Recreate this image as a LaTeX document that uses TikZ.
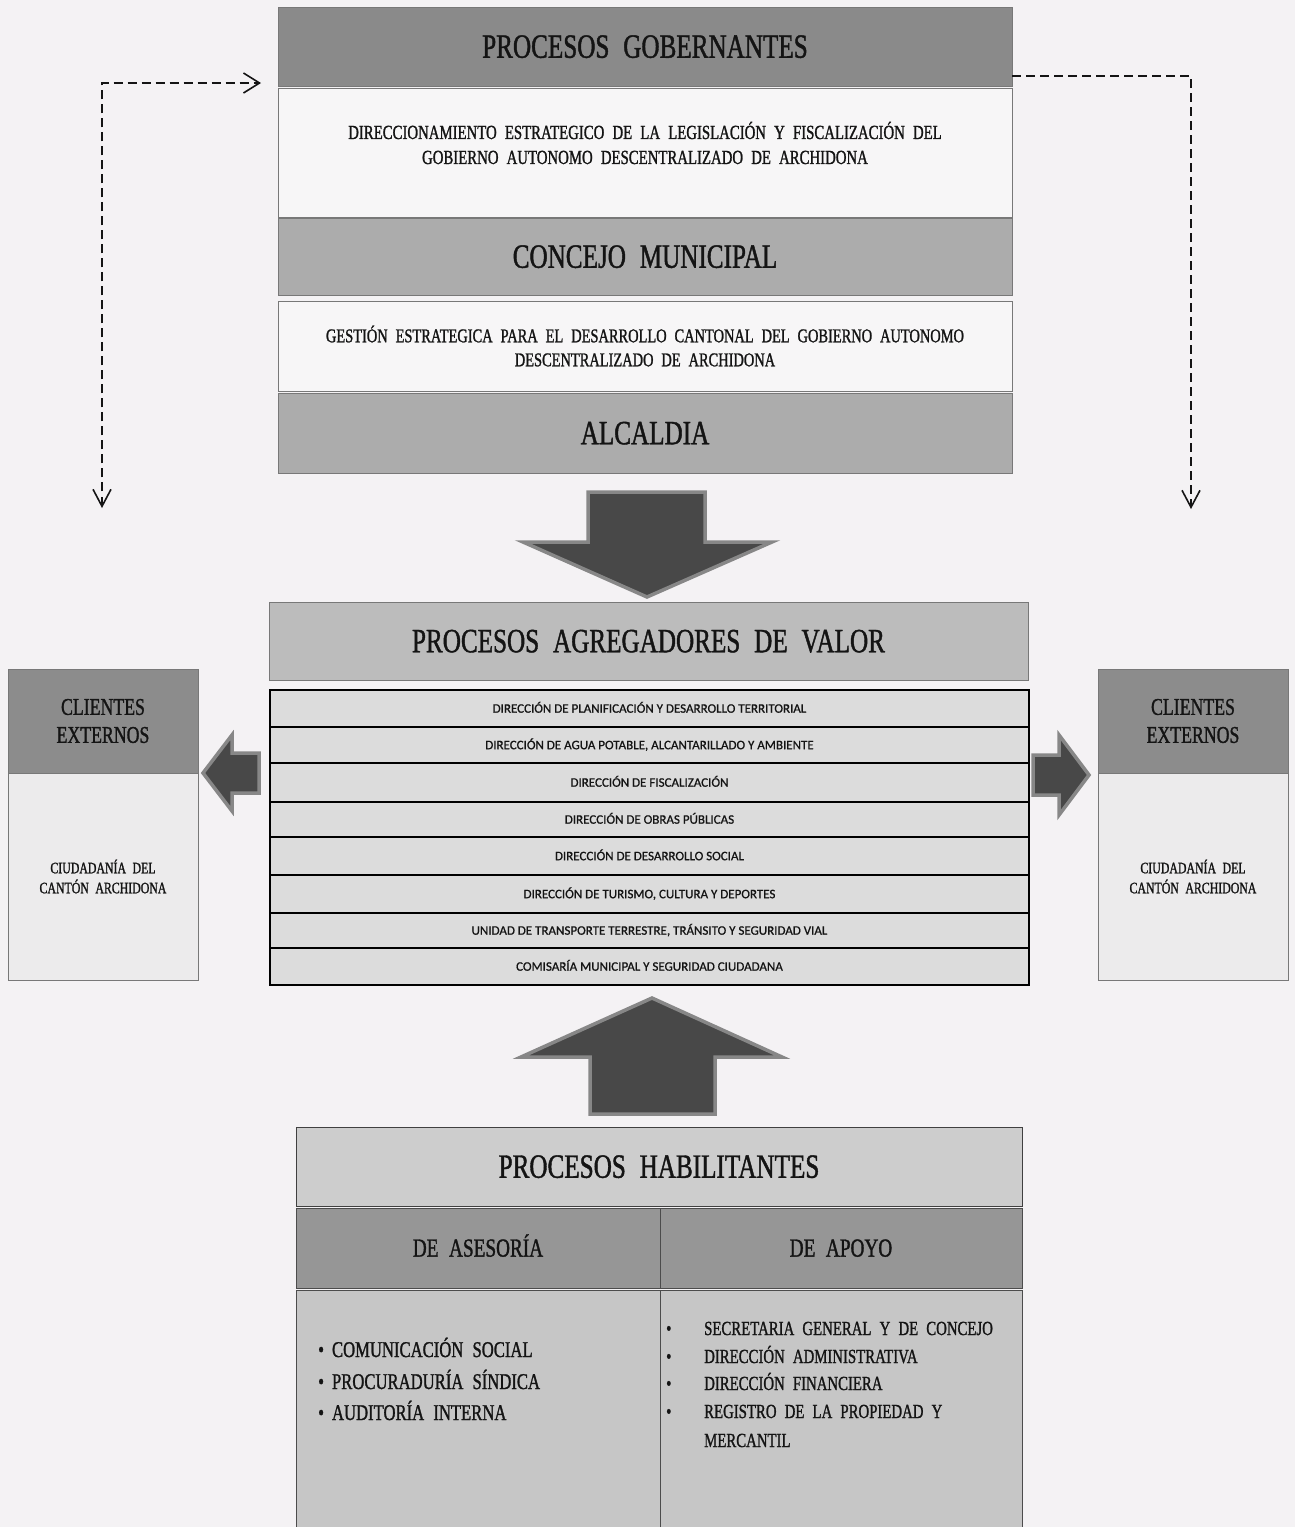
\documentclass[tikz,border=0pt]{standalone}
\usepackage{fontspec}
\setmainfont{Liberation Serif}
\newfontfamily\cs[FakeStretch=0.74,WordSpace=2.2,FakeBold=1.2]{Liberation Serif}
\newfontfamily\calfont[FakeBold=0.8]{Carlito}
\usetikzlibrary{arrows.meta}
\definecolor{bg}{RGB}{244,242,244}
\definecolor{govgray}{RGB}{138,138,138}
\definecolor{midgray}{RGB}{172,172,172}
\definecolor{agrgray}{RGB}{188,188,188}
\definecolor{rowgray}{RGB}{220,220,220}
\definecolor{paper}{RGB}{247,246,247}
\definecolor{cligray}{RGB}{140,140,140}
\definecolor{clibody}{RGB}{236,235,236}
\definecolor{habgray}{RGB}{205,205,205}
\definecolor{asegray}{RGB}{150,150,150}
\definecolor{contgray}{RGB}{198,198,198}
\definecolor{arrowdark}{RGB}{72,72,72}
\definecolor{arrowedge}{RGB}{135,135,135}
\definecolor{bordergray}{RGB}{120,120,120}
\definecolor{ink}{RGB}{20,20,20}
\begin{document}
\begin{tikzpicture}[x=1pt,y=-1pt,
  blk/.style={rectangle, inner sep=0pt, outer sep=0pt, draw=bordergray, line width=0.8pt, align=center, text=ink},
  head/.style={font=\cs\fontsize{34}{40}\selectfont, text height=22.5pt, text depth=0pt},
  bodytxt/.style={font=\cs\fontsize{20}{25}\selectfont, align=center, text=ink},
  rowsty/.style={blk, fill=rowgray, draw=black, line width=2.2pt, minimum width=759pt, font=\calfont\fontsize{13}{15}\selectfont, text height=8.4pt, text depth=0pt},
  clihead/.style={blk, fill=cligray, minimum width=190pt, minimum height=104pt, font=\cs\fontsize{24}{28}\selectfont},
  clibox/.style={blk, fill=clibody, minimum width=190pt, minimum height=207pt, font=\cs\fontsize{16}{20}\selectfont},
  subhead/.style={blk, fill=asegray, draw=black!70, minimum height=80pt, font=\cs\fontsize{26}{30}\selectfont, text height=17.2pt, text depth=0pt},
  listl/.style={anchor=base west, inner sep=0pt, text=ink, font=\cs\fontsize{22.5}{26}\selectfont},
  listr/.style={anchor=base west, inner sep=0pt, text=ink, font=\cs\fontsize{20}{24}\selectfont},
  dashline/.style={line width=2pt, dash pattern=on 9pt off 5pt, draw=ink},
  barbr/.tip={Straight Barb[length=16pt,width=20pt,line width=1.6pt]},
  barbd/.tip={Straight Barb[length=17pt,width=18pt,line width=1.6pt]},
  blockarrow/.style={fill=arrowdark, draw=arrowedge, line width=3.5pt, line join=miter}
]
\fill[bg] (0,0) rectangle (1295,1527);
\useasboundingbox (0,0) rectangle (1295,1527);

% ---------- top block ----------
\node[blk, fill=govgray, minimum width=734pt, minimum height=79pt, head] (gob) at (645,46.5) {PROCESOS GOBERNANTES};
\node[blk, fill=paper, minimum width=734pt, minimum height=129pt] (d1) at (645,152.5) {};
\node[bodytxt] (d1t) at (645,143) {DIRECCIONAMIENTO ESTRATEGICO DE LA LEGISLACIÓN Y FISCALIZACIÓN DEL\\GOBIERNO AUTONOMO DESCENTRALIZADO DE ARCHIDONA};
\node[blk, fill=midgray, minimum width=734pt, minimum height=77pt, head] (con) at (645,256.5) {CONCEJO MUNICIPAL};
\node[blk, fill=paper, minimum width=734pt, minimum height=90pt, bodytxt, font=\cs\fontsize{19.5}{24}\selectfont] (d2) at (645,346) {GESTIÓN ESTRATEGICA PARA EL DESARROLLO CANTONAL DEL GOBIERNO AUTONOMO\\DESCENTRALIZADO DE ARCHIDONA};
\node[blk, fill=midgray, minimum width=734pt, minimum height=80pt, head] (alc) at (645,433) {ALCALDIA};

% down arrow
\draw[blockarrow] (588,492) -- (705,492) -- (705,542) -- (772,542) -- (647,597) -- (523,542) -- (588,542) -- cycle;

% ---------- dashed connectors ----------
\coordinate (lcorner) at (102,83);
\coordinate (ltip) at (261,83);
\coordinate (lbot) at (102,508);
\coordinate (rcorner) at (1191,76);
\coordinate (rbot) at (1191,509);
\draw[dashline, {barbd}-{barbr}] (lbot) -- (lcorner) -- (ltip);
\draw[dashline, -{barbd}] (gob.east |- rcorner) -- (rcorner) -- (rbot);

% ---------- value-adding processes ----------
\node[blk, fill=agrgray, minimum width=759pt, minimum height=78pt, head] (agr) at (648.5,641) {PROCESOS AGREGADORES DE VALOR};
\node[rowsty, minimum height=37pt] (r1) at (649.5,708.5) {DIRECCIÓN DE PLANIFICACIÓN Y DESARROLLO TERRITORIAL};
\node[rowsty, minimum height=36pt] (r2) at (649.5,745) {DIRECCIÓN DE AGUA POTABLE, ALCANTARILLADO Y AMBIENTE};
\node[rowsty, minimum height=39pt] (r3) at (649.5,782.5) {DIRECCIÓN DE FISCALIZACIÓN};
\node[rowsty, minimum height=35pt] (r4) at (649.5,819.5) {DIRECCIÓN DE OBRAS PÚBLICAS};
\node[rowsty, minimum height=38pt] (r5) at (649.5,856) {DIRECCIÓN DE DESARROLLO SOCIAL};
\node[rowsty, minimum height=38pt] (r6) at (649.5,894) {DIRECCIÓN DE TURISMO, CULTURA Y DEPORTES};
\node[rowsty, minimum height=35pt] (r7) at (649.5,930.5) {UNIDAD DE TRANSPORTE TERRESTRE, TRÁNSITO Y SEGURIDAD VIAL};
\node[rowsty, minimum height=37pt] (r8) at (649.5,966.5) {COMISARÍA MUNICIPAL Y SEGURIDAD CIUDADANA};

% clients
\node[clihead] (clh) at (103,721) {CLIENTES\\EXTERNOS};
\node[clibox] (clb) at (103,876.5) {CIUDADANÍA DEL\\CANTÓN ARCHIDONA};
\node[clihead] (crh) at (1193,721) {CLIENTES\\EXTERNOS};
\node[clibox] (crb) at (1193,876.5) {CIUDADANÍA DEL\\CANTÓN ARCHIDONA};

% side arrows
\draw[blockarrow] (203,773) -- (232,735) -- (232,753) -- (259,753) -- (259,793) -- (232,793) -- (232,811) -- cycle;
\draw[blockarrow] (1089,775) -- (1059,735) -- (1059,755) -- (1033,755) -- (1033,795) -- (1059,795) -- (1059,815) -- cycle;

% up arrow
\draw[blockarrow] (652,998) -- (782,1057) -- (715,1057) -- (715,1114) -- (590,1114) -- (590,1057) -- (521,1057) -- cycle;

% ---------- enabling processes ----------
\node[blk, fill=habgray, draw=black!75, minimum width=726pt, minimum height=79pt, head] (hab) at (659,1166.5) {PROCESOS HABILITANTES};
\node[subhead, minimum width=364pt] (ase) at (478,1248) {DE ASESORÍA};
\node[subhead, minimum width=362pt] (apo) at (841,1248) {DE APOYO};
\node[blk, fill=contgray, draw=black!70, minimum width=364pt, minimum height=240pt] (cl) at (478,1410) {};
\node[blk, fill=contgray, draw=black!70, minimum width=362pt, minimum height=240pt] (cr) at (841,1410) {};

\node[listl] (l1) at (318,1357) {\textbullet\hspace{8pt}COMUNICACIÓN SOCIAL};
\node[listl] (l2) at (318,1389) {\textbullet\hspace{8pt}PROCURADURÍA SÍNDICA};
\node[listl] (l3) at (318,1420) {\textbullet\hspace{8pt}AUDITORÍA INTERNA};

\node[listr] (p1) at (666,1335) {\makebox[38pt][l]{\textbullet}SECRETARIA GENERAL Y DE CONCEJO};
\node[listr] (p2) at (666,1363) {\makebox[38pt][l]{\textbullet}DIRECCIÓN ADMINISTRATIVA};
\node[listr] (p3) at (666,1390) {\makebox[38pt][l]{\textbullet}DIRECCIÓN FINANCIERA};
\node[listr] (p4) at (666,1418) {\makebox[38pt][l]{\textbullet}REGISTRO DE LA PROPIEDAD Y};
\node[listr] (p5) at (704,1447) {MERCANTIL};
\end{tikzpicture}
\end{document}
